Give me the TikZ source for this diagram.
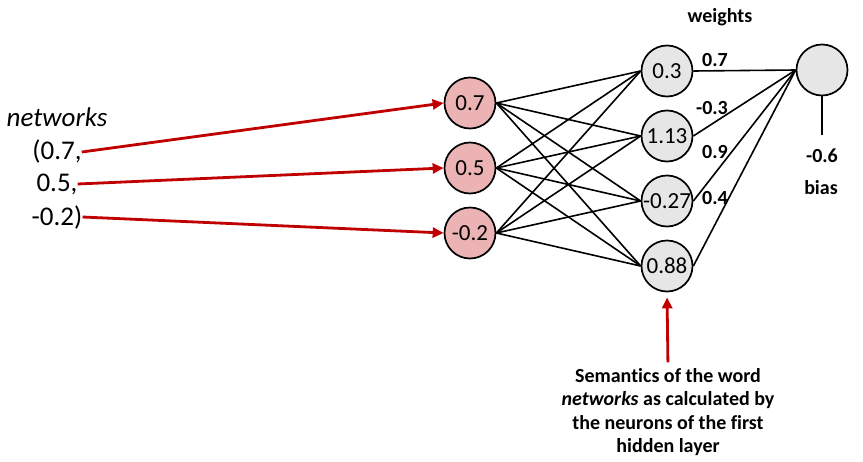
\documentclass[tikz,border=0pt]{standalone}
\usepackage{fontspec}
\setmainfont[Ligatures=NoCommon]{Carlito}
\usepackage{tikz}
\usetikzlibrary{arrows.meta}
\definecolor{darkred}{HTML}{C00000}
\definecolor{pinkfill}{HTML}{EBB3B3}
\definecolor{greyfill}{HTML}{E6E6E6}

\tikzset{
    neuron/.style={circle, draw, line width=1.7pt, minimum size=51pt, inner sep=0pt, font=\fontsize{23}{23}\selectfont},
    inneuron/.style={neuron, fill=pinkfill},
    hidneuron/.style={neuron, fill=greyfill},
    wordtext/.style={inner sep=0pt, font=\fontsize{27}{27}\selectfont},
    wlabel/.style={font=\fontsize{20}{20}\selectfont\bfseries},
    link/.style={line width=1.6pt},
    redarrow/.style={-{Triangle[length=11pt,width=10pt]}, darkred, line width=2.8pt}
}

\begin{document}
\begin{tikzpicture}[x=1pt, y=-1pt]
    \useasboundingbox (0,0) rectangle (863,461);

    % Word vector
    \node[wordtext, font=\fontsize{27}{27}\selectfont\itshape] (word) at (57,117) {networks};
    \node[wordtext] (v1) at (57,152) {(0.7,};
    \node[wordtext] (v2) at (57,184) {0.5,};
    \node[wordtext] (v3) at (57,217) {-0.2)};

    % Input layer
    \node[inneuron] (i1) at (470,103) {0.7};
    \node[inneuron] (i2) at (470,168) {0.5};
    \node[inneuron] (i3) at (470,233) {-0.2};

    % Hidden layer
    \node[hidneuron] (h1) at (667,71) {0.3};
    \node[hidneuron] (h2) at (667,136) {1.13};
    \node[hidneuron] (h3) at (667,201) {-0.27};
    \node[hidneuron] (h4) at (667,266) {0.88};

    % Output neuron
    \node[hidneuron] (out) at (822,70) {};
    \coordinate (bend) at (822,135);

    \draw[redarrow] (v1.east) -- (i1.west);
    \draw[redarrow] (v2.east) -- (i2.west);
    \draw[redarrow] (v3.east) -- (i3.west);

    \foreach \i in {1,2,3}
        \foreach \h in {1,2,3,4}
            \draw[link] (i\i.east) -- (h\h.west);
    \foreach \h in {1,2,3,4}
        \draw[link] (h\h.east) -- (out.west);
    \draw[link] (out.south) -- (bend);

    % Weights and bias
    \node[wlabel] (wtitle) at (720,17) {weights};
    \node[wlabel] (w1) at (715,60) {0.7};
    \node[wlabel] (w2) at (712,108) {-0.3};
    \node[wlabel] (w3) at (715,152) {0.9};
    \node[wlabel] (w4) at (715,198) {0.4};
    \node[wlabel] (bval) at (822,156) {-0.6};
    \node[wlabel] (btext) at (821,188) {bias};

    % Semantics note
    \node[wlabel, align=center, inner sep=0pt, font=\fontsize{20}{23.3}\selectfont\bfseries] (note) at (668,412)
        {Semantics of the word\\\textit{networks} as calculated by\\the neurons of the first\\hidden layer};
    \draw[redarrow, shorten <=6pt, shorten >=5pt] (note.north) -- (h4.south);
\end{tikzpicture}
\end{document}
